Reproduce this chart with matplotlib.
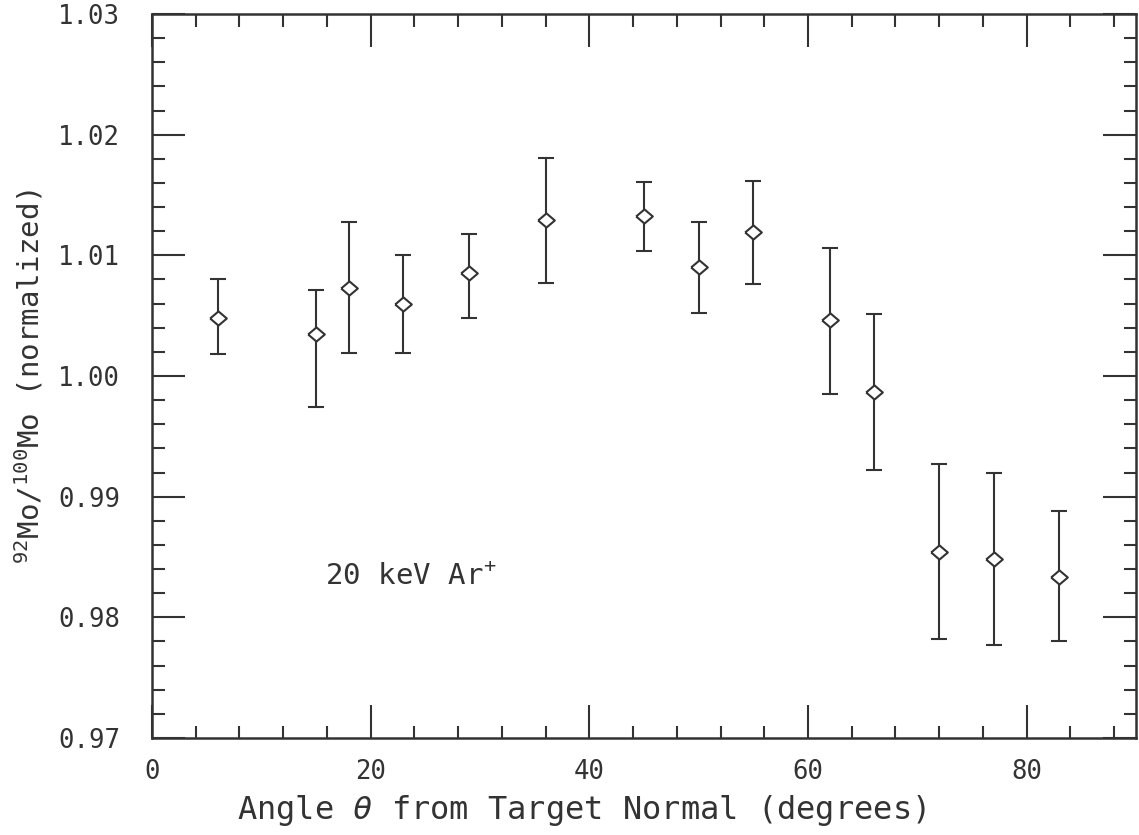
import matplotlib
matplotlib.use("Agg")
import matplotlib.pyplot as plt
from matplotlib.ticker import MultipleLocator

angle = [6, 15, 18, 23, 29, 36, 45, 50, 55, 62, 66, 72, 77, 83]
ratio = [1.0048, 1.0035, 1.0073, 1.0060, 1.0085, 1.0129, 1.0133, 1.0090,
         1.0119, 1.0046, 0.9987, 0.9854, 0.9848, 0.9833]
err_hi = [1.0080, 1.0071, 1.0128, 1.0100, 1.0118, 1.0181, 1.0161, 1.0128,
          1.0162, 1.0106, 1.0051, 0.9927, 0.9920, 0.9888]
err_lo = [1.0018, 0.9974, 1.0019, 1.0019, 1.0048, 1.0077, 1.0104, 1.0052,
          1.0076, 0.9985, 0.9922, 0.9782, 0.9777, 0.9780]

ink = "#333333"
mono = "DejaVu Sans Mono"
plt.rcParams["font.family"] = mono
plt.rcParams["mathtext.fontset"] = "custom"
plt.rcParams["mathtext.rm"] = mono
plt.rcParams["mathtext.it"] = mono + ":italic"

fig = plt.figure(figsize=(11.39, 8.35), dpi=100)
ax = fig.add_axes([0.1334, 0.1162, 0.8640, 0.8670])

# wide flat diamond like the original plot symbol
diamond = [(-1, 0), (0, 0.85), (1, 0), (0, -0.85), (-1, 0)]

yerr = [[r - lo for r, lo in zip(ratio, err_lo)],
        [hi - r for r, hi in zip(ratio, err_hi)]]
ax.errorbar(angle, ratio, yerr=yerr, fmt="none", ecolor=ink, elinewidth=1.5,
            capsize=5.5, capthick=1.5)
ax.plot(angle, ratio, ls="none", marker=diamond, ms=12, mfc="white",
        mec=ink, mew=1.5, zorder=3)

ax.set_xlim(0, 90)
ax.set_ylim(0.97, 1.03)
ax.xaxis.set_major_locator(MultipleLocator(20))
ax.xaxis.set_minor_locator(MultipleLocator(4))
ax.yaxis.set_major_locator(MultipleLocator(0.01))
ax.yaxis.set_minor_locator(MultipleLocator(0.002))
ax.yaxis.set_major_formatter(plt.FuncFormatter(lambda v, p: f"{v:.2f}"))

ax.tick_params(which="both", direction="in", top=True, right=True,
               color=ink, width=1.5, labelcolor=ink, labelsize=18.5)
ax.tick_params(which="major", length=24)
ax.tick_params(axis="x", which="major", pad=15)
ax.tick_params(axis="y", which="major", pad=23)
ax.tick_params(which="minor", length=9)
for s in ax.spines.values():
    s.set_color(ink)
    s.set_linewidth(1.8)

ax.set_xlabel(r"Angle $\theta$ from Target Normal (degrees)",
              fontsize=23, color=ink)
ax.xaxis.set_label_coords(0.436, -0.076)
ax.set_ylabel(r"$^{92}$Mo/$^{100}$Mo (normalized)", fontsize=21, color=ink)
ax.yaxis.set_label_coords(-0.108, 0.5)

ax.text(15.8, 0.9833, r"20 keV Ar$^{+}$", fontsize=21, color=ink,
        va="center", ha="left")

fig.savefig("out.png", dpi=100)
